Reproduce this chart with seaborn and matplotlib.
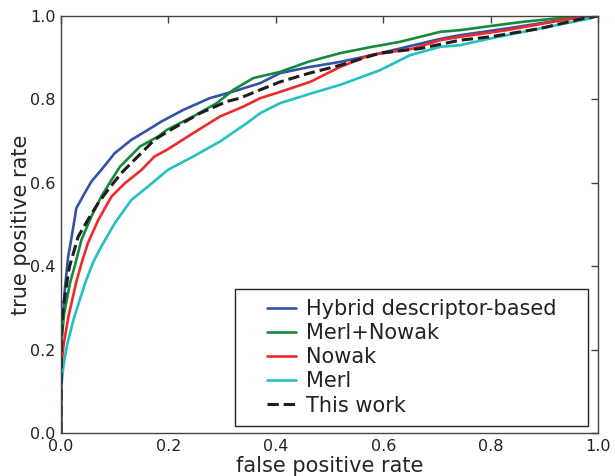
"""
ROC curves: hybrid descriptor vs Merl / Nowak baselines vs this work.
"""

import matplotlib

matplotlib.use("Agg")
import matplotlib.pyplot as plt
import pandas as pd
import seaborn as sns
from matplotlib.path import Path

# values (fpr, tpr)
hybrid_fpr = [0, 0.0005, 0.002, 0.0075, 0.013, 0.022, 0.0285, 0.044, 0.0565, 0.075, 0.1,
              0.131, 0.162, 0.187, 0.228, 0.277, 0.321, 0.371, 0.408, 0.46, 0.52, 0.575,
              0.631, 0.706, 0.743, 0.83, 0.9, 0.953, 1.0]
hybrid_tpr = [0, 0.15, 0.25, 0.35, 0.42, 0.487, 0.539, 0.575, 0.603, 0.631, 0.671,
              0.703, 0.727, 0.747, 0.775, 0.803, 0.819, 0.839, 0.863, 0.877, 0.89, 0.905,
              0.922, 0.945, 0.954, 0.97, 0.984, 0.994, 1.0]

merl_nowak_fpr = [0, 0.001, 0.006, 0.0168, 0.0255, 0.038, 0.0565, 0.075, 0.094, 0.11, 0.147,
                  0.181, 0.197, 0.246, 0.29, 0.321, 0.358, 0.371, 0.408, 0.46, 0.52, 0.575,
                  0.631, 0.706, 0.743, 0.8, 0.86, 0.953, 1.0]
merl_nowak_tpr = [0, 0.223, 0.287, 0.36, 0.40, 0.463, 0.519, 0.567, 0.607, 0.639, 0.687,
                  0.711, 0.727, 0.759, 0.791, 0.823, 0.851, 0.855, 0.866, 0.89, 0.911, 0.925,
                  0.938, 0.962, 0.966, 0.976, 0.986, 0.998, 1.0]

nowak_fpr = [0, 0.001, 0.0043, 0.0137, 0.029, 0.04, 0.05, 0.069, 0.094, 0.119, 0.15, 0.174,
             0.197, 0.246, 0.296, 0.34, 0.371, 0.408, 0.464, 0.52, 0.575, 0.656, 0.706,
             0.743, 0.83, 0.942, 1.0]
nowak_tpr = [0, 0.159, 0.207, 0.279, 0.365, 0.415, 0.455, 0.51, 0.567, 0.599, 0.631, 0.663,
             0.679, 0.719, 0.759, 0.783, 0.803, 0.818, 0.842, 0.878, 0.906, 0.922, 0.942,
             0.95, 0.966, 0.992, 1.0]

merl_fpr = [0, 0.0005, 0.0043, 0.0106, 0.023, 0.045, 0.06, 0.075, 0.1, 0.131, 0.162, 0.199,
            0.246, 0.296, 0.346, 0.371, 0.408, 0.46, 0.52, 0.594, 0.65, 0.706, 0.743, 0.799,
            0.892, 0.985, 1.0]
merl_tpr = [0, 0.111, 0.159, 0.207, 0.271, 0.36, 0.41, 0.447, 0.503, 0.559, 0.591, 0.631,
            0.663, 0.699, 0.743, 0.767, 0.791, 0.812, 0.835, 0.87, 0.906, 0.926, 0.93, 0.946,
            0.97, 0.994, 1.0]

this_work_fpr = [0, 0.001, 0.0043, 0.0137, 0.016, 0.032, 0.05, 0.069, 0.0875, 0.112, 0.143,
                 0.174, 0.199, 0.215, 0.259, 0.309, 0.333, 0.371, 0.408, 0.46, 0.52, 0.594,
                 0.669, 0.743, 0.799, 0.892, 0.972, 1.0]
this_work_tpr = [0, 0.24, 0.303, 0.384, 0.40, 0.471, 0.511, 0.551, 0.583, 0.623, 0.663,
                 0.703, 0.723, 0.735, 0.767, 0.795, 0.803, 0.823, 0.842, 0.862, 0.882, 0.911,
                 0.922, 0.942, 0.95, 0.97, 0.994, 1.0]

ticks = [0.0, 0.2, 0.4, 0.6, 0.8, 1.0]


def wide_square(x0, y0, width, height, mutation_size):
    # square legend frame with extra room left and right
    dx = 1.0 * mutation_size
    x0, x1 = x0 - dx, x0 + width + dx
    y1 = y0 + height
    return Path([(x0, y0), (x1, y0), (x1, y1), (x0, y1), (x0, y0)], closed=True)


def main() -> None:
    series = [
        ("Hybrid descriptor-based", hybrid_fpr, hybrid_tpr, "#3352a8", "-"),
        ("Merl+Nowak", merl_nowak_fpr, merl_nowak_tpr, "#158a3e", "-"),
        ("Nowak", nowak_fpr, nowak_tpr, "#f02a2a", "-"),
        ("Merl", merl_fpr, merl_tpr, "#25c0c0", "-"),
        ("This work", this_work_fpr, this_work_tpr, "#1e1e1e", "--"),
    ]

    sns.set_style("white")
    plt.rcParams["font.family"] = ["DejaVu Sans"]
    plt.rcParams["text.color"] = "#222222"
    plt.rcParams["xtick.color"] = "#444444"
    plt.rcParams["ytick.color"] = "#444444"
    plt.rcParams["xtick.labelcolor"] = "#222222"
    plt.rcParams["ytick.labelcolor"] = "#222222"

    fig, ax = plt.subplots(figsize=(6.15, 4.76), dpi=100)
    fig.subplots_adjust(left=0.0992, right=0.9724, bottom=0.0903, top=0.9664)

    for name, fpr, tpr, color, ls in series:
        df = pd.DataFrame({"fpr": fpr, "tpr": tpr})
        sns.lineplot(
            data=df,
            x="fpr",
            y="tpr",
            sort=False,
            estimator=None,
            color=color,
            linestyle=ls,
            linewidth=2.2 if ls == "--" else 1.9,
            label=name,
            ax=ax,
        )

    ax.set_xlim(0, 1)
    ax.set_ylim(0, 1)
    ax.set_xticks(ticks)
    ax.set_yticks(ticks)
    ax.set_xticklabels([f"{t:.1f}" for t in ticks])
    ax.set_yticklabels([f"{t:.1f}" for t in ticks])
    ax.tick_params(axis="both", direction="in", top=True, right=True,
                   length=5, width=1, labelsize=11.5, pad=4)
    for sp in ax.spines.values():
        sp.set_color("#444444")
        sp.set_linewidth(1.0)

    ax.set_xlabel("false positive rate", fontsize=15, labelpad=1.5)
    ax.set_ylabel("true positive rate", fontsize=15, labelpad=-0.5)

    leg = ax.legend(
        loc="lower right",
        bbox_to_anchor=(0.9426, 0.0168),
        borderaxespad=0,
        fontsize=15,
        frameon=True,
        fancybox=False,
        framealpha=1,
        edgecolor="#222222",
        handlelength=1.4,
        handletextpad=0.5,
        labelspacing=0.2,
        borderpad=0.5,
    )
    leg.get_frame().set_linewidth(1.0)
    leg.get_frame().set_boxstyle(wide_square)

    fig.savefig("out.png", dpi=100)
    plt.close(fig)


if __name__ == "__main__":
    main()
